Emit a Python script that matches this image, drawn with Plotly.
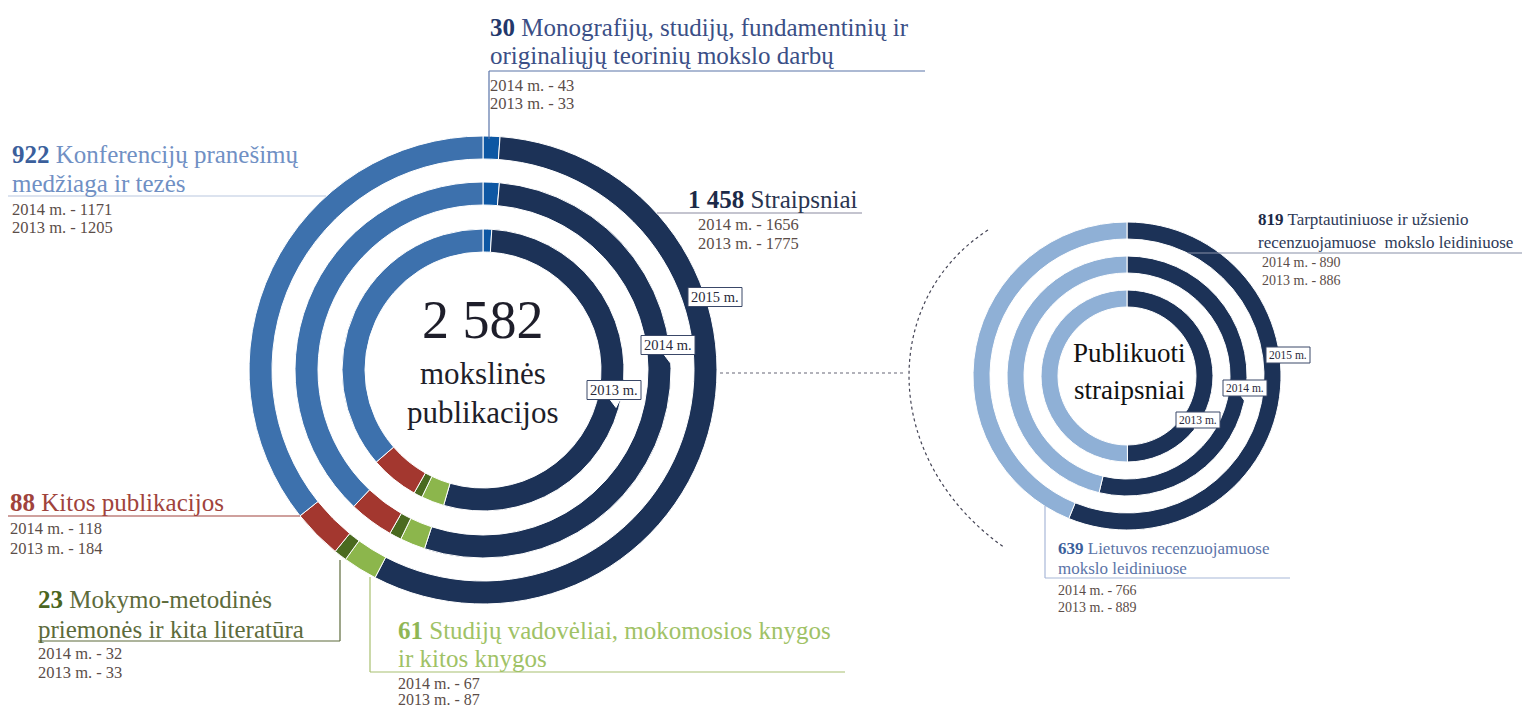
"""Mokslinės publikacijos: concentric ring charts."""

import plotly.graph_objects as go

W, H = 1524, 709

# --- data ---
years = ["2015 m.", "2014 m.", "2013 m."]
pub_names = [
    ["Monografijų, studijų, fundamentinių ir", "originaliųjų teorinių mokslo darbų"],
    ["Straipsniai"],
    ["Studijų vadovėliai, mokomosios knygos", "ir kitos knygos"],
    ["Mokymo-metodinės", "priemonės ir kita literatūra"],
    ["Kitos publikacijos"],
    ["Konferencijų pranešimų", "medžiaga ir tezės"],
]
pub_2015 = [30, 1458, 61, 23, 88, 922]
pub_2014 = [43, 1656, 67, 32, 118, 1171]
pub_2013 = [33, 1775, 87, 33, 184, 1205]

art_names = [
    ["Tarptautiniuose ir užsienio", "recenzuojamuose  mokslo leidiniuose"],
    ["Lietuvos recenzuojamuose", "mokslo leidiniuose"],
]
art_2015 = [819, 639]
art_2014 = [890, 766]
art_2013 = [886, 889]

# --- styling ---
FONT = "Liberation Serif"
NAVY = "#1c3257"
pub_colors = ["#0d57a3", NAVY, "#8cb64c", "#4a6a1f", "#a3372f", "#3d71ad"]
art_colors = [NAVY, "#8fb0d6"]
SUB = "#5b4d48"


def fx(x):
    return x / W


def fy(y):
    return 1 - y / H


def num(v):
    return f"{v:,}".replace(",", " ")


def ring(values, colors, cx, cy, r, thick, name):
    return go.Pie(
        values=values,
        labels=[f"{name} {i}" for i in range(len(values))],
        marker=dict(colors=colors, line=dict(color="white", width=1)),
        hole=(r - thick) / r,
        sort=False,
        direction="clockwise",
        rotation=0,
        textinfo="none",
        hoverinfo="value",
        showlegend=False,
        domain=dict(x=[fx(cx - r), fx(cx + r)], y=[fy(cy + r), fy(cy - r)]),
    )


fig = go.Figure()

# left rings
LCX, LCY = 483, 370
for vals, r, name in zip([pub_2015, pub_2014, pub_2013], [234, 188, 141], years):
    fig.add_trace(ring(vals, pub_colors, LCX, LCY, r, 23, name))

# right rings
RCX, RCY = 1127, 376
for vals, r, name in zip([art_2015, art_2014, art_2013], [154, 120, 86], years):
    fig.add_trace(ring(vals, art_colors, RCX, RCY, r, 17, name))

annotations = []
shapes = []


def text(x, y, s, size, color, xanchor="left", yanchor="middle"):
    annotations.append(dict(
        x=fx(x), y=fy(y), xref="paper", yref="paper", text=s, showarrow=False,
        xanchor=xanchor, yanchor=yanchor, align="left",
        font=dict(family=FONT, size=size, color=color),
    ))


def line(x0, y0, x1, y1, color, width=1.2, dash="solid"):
    shapes.append(dict(
        type="line", xref="paper", yref="paper",
        x0=fx(x0), y0=fy(y0), x1=fx(x1), y1=fy(y1),
        line=dict(color=color, width=width, dash=dash),
    ))


def label(i, names, v15, v14, v13, tx, title_ys, sx, sub_ys, bold_c, txt_c, size, sub_size):
    lines = names[i]
    first = f"<b><span style='color:{bold_c}'>{num(v15[i])}</span></b> {lines[0]}"
    for s, y in zip([first] + lines[1:], title_ys):
        text(tx - 2, y, s, size, txt_c)
    text(sx - 2, sub_ys[0], f"2014 m. - {v14[i]}", sub_size, SUB)
    text(sx - 2, sub_ys[1], f"2013 m. - {v13[i]}", sub_size, SUB)


# left labels
label(0, pub_names, pub_2015, pub_2014, pub_2013, 490, [27, 56], 490, [85, 103],
      "#23386b", "#3b4f86", 25, 16.5)
line(489, 71, 925, 71, "#5a74a8")
line(489, 71, 489, 139, "#5a74a8")

label(5, pub_names, pub_2015, pub_2014, pub_2013, 12, [154, 183], 12, [209, 228],
      "#3b5f9c", "#7090c4", 25, 16.5)
line(8, 196, 326, 196, "#b9c7e0")

label(1, pub_names, pub_2015, pub_2014, pub_2013, 688, [199], 698, [225, 243],
      "#1c2a48", "#2a3550", 25, 16.5)
line(657, 213, 862, 213, "#8a8aa0")

label(4, pub_names, pub_2015, pub_2014, pub_2013, 10, [502], 10, [528, 548],
      "#a0433c", "#a0433c", 25, 16.5)
line(8, 516, 300, 516, "#a0433c")

label(3, pub_names, pub_2015, pub_2014, pub_2013, 38, [599, 629], 38, [653, 672],
      "#4a6520", "#5d6b3b", 25, 16.5)
line(38, 641, 340, 641, "#5d6b3b")
line(340, 641, 340, 560, "#5d6b3b")

label(2, pub_names, pub_2015, pub_2014, pub_2013, 398, [630, 658], 398, [683, 699],
      "#8fb655", "#9fc266", 25, 16)
line(370, 672, 845, 672, "#a8c070")
line(370, 672, 370, 577, "#a8c070")

# right labels
label(0, art_names, art_2015, art_2014, art_2013, 1258, [220, 242], 1262, [262, 280],
      "#1c2a48", "#2e3a58", 17, 14)
line(1188, 253, 1522, 253, "#8890a8")

label(1, art_names, art_2015, art_2014, art_2013, 1058, [548, 568], 1058, [590, 607],
      "#3b5f9c", "#5b74a8", 17, 14)
line(1045, 578, 1290, 578, "#a8b8d8")
line(1045, 578, 1045, 506, "#a8b8d8")

# centre texts
text(LCX, 320, num(sum(pub_2015)), 54, "#1e1e2a", xanchor="center")
text(LCX, 374, "mokslinės", 31, "#1e1e2a", xanchor="center")
text(LCX, 412, "publikacijos", 31, "#1e1e2a", xanchor="center")
text(RCX + 2, 353, "Publikuoti", 27, "#111111", xanchor="center")
text(RCX + 2, 390, "straipsniai", 27, "#111111", xanchor="center")


# year callouts
def callout(x, y, s, size, w, h):
    shapes.append(dict(
        type="path", xref="paper", yref="paper",
        path=(f"M {fx(x - 4)} {fy(y + h / 2)} L {fx(x + 2)} {fy(y + h / 2 + 8)} "
              f"L {fx(x + 6)} {fy(y + h / 2)} Z"),
        fillcolor="white", line=dict(color="white", width=1),
    ))
    shapes.append(dict(
        type="rect", xref="paper", yref="paper",
        x0=fx(x - w / 2), x1=fx(x + w / 2), y0=fy(y + h / 2), y1=fy(y - h / 2),
        fillcolor="white", line=dict(color="#3a4868", width=1),
    ))
    text(x, y, s, size, "#2a2a3a", xanchor="center")


for (x, y), s in zip([(715, 297), (668, 345), (614, 390)], years):
    callout(x, y, s, 14.5, 54, 19)
for (x, y), s in zip([(1288, 355), (1245, 388), (1198, 420)], years):
    callout(x, y, s, 11.5, 44, 16)

# connector between the two ring groups
line(720, 373, 905, 373, "#666677", width=1.2, dash="dot")
shapes.append(dict(
    type="path", xref="paper", yref="paper",
    path=(f"M {fx(988)} {fy(230)} C {fx(880)} {fy(300)}, {fx(880)} {fy(460)}, "
          f"{fx(1005)} {fy(548)}"),
    line=dict(color="#444455", width=1.2, dash="dot"),
))

fig.update_layout(
    width=W,
    height=H,
    margin=dict(l=0, r=0, t=0, b=0),
    paper_bgcolor="white",
    plot_bgcolor="white",
    annotations=annotations,
    shapes=shapes,
    showlegend=False,
)

# page has a default 8px body margin; drop it so the figure fills the window
fig.write_html(
    "out.html",
    config={"displayModeBar": False},
    post_script="document.body.style.margin = '0';",
)
